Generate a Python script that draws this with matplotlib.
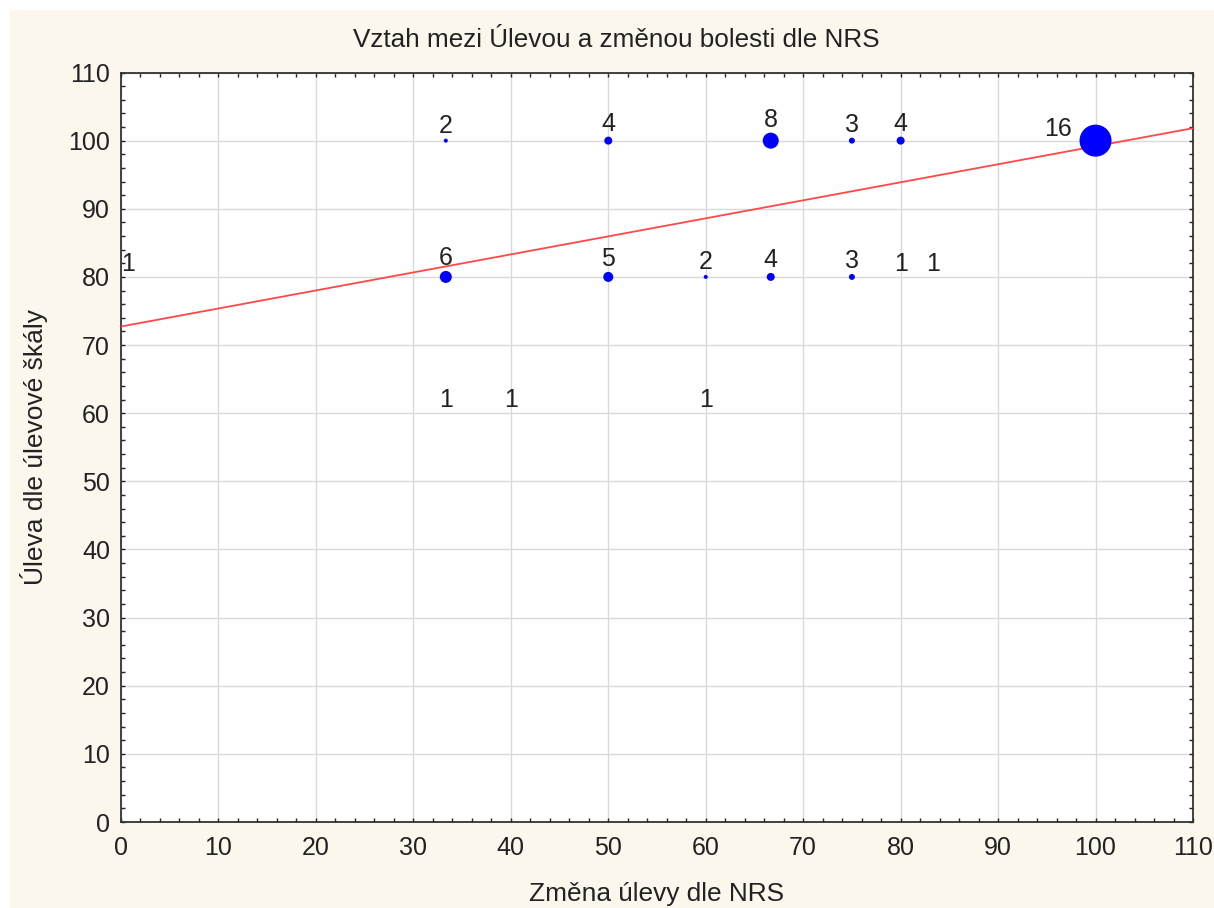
import matplotlib
matplotlib.use("Agg")
import matplotlib.pyplot as plt
from matplotlib.patches import Rectangle
from matplotlib.ticker import MultipleLocator
import numpy as np

plt.rcParams['font.family'] = ['Liberation Sans', 'DejaVu Sans']

# bubble data: change of relief (NRS) vs relief on scale, with counts
zmena = [0, 33.33, 50, 66.67, 75, 80, 100,
         33.33, 50, 60, 66.67, 75, 80, 83.33,
         33.33, 40, 60]
uleva = [80, 100, 100, 100, 100, 100, 100,
         80, 80, 80, 80, 80, 80, 80,
         60, 60, 60]
pocet = [1, 2, 4, 8, 3, 4, 16,
         6, 5, 2, 4, 3, 1, 1,
         1, 1, 1]

title = "Vztah mezi Úlevou a změnou bolesti dle NRS"
xlabel = "Změna úlevy dle NRS"
ylabel = "Úleva dle úlevové škály"

cream = '#fcf7ec'
ink = '#222222'

fig = plt.figure(figsize=(12.14, 9.08), dpi=100, facecolor='white')
fig.patches.append(Rectangle((10 / 1214, 0), 1, 1 - 10 / 908, transform=fig.transFigure,
                             facecolor=cream, edgecolor='none', zorder=-10))
ax = fig.add_axes([121 / 1214, 1 - 822 / 908, 1072 / 1214, 749.5 / 908])
ax.set_facecolor('white')

ax.set_xlim(0, 110)
ax.set_ylim(0, 110)
ax.xaxis.set_major_locator(MultipleLocator(10))
ax.yaxis.set_major_locator(MultipleLocator(10))
ax.xaxis.set_minor_locator(MultipleLocator(2))
ax.yaxis.set_minor_locator(MultipleLocator(2))
ax.grid(True, which='major', color='#d9d9d9', linewidth=1.0)
ax.set_axisbelow(True)
ax.tick_params(which='both', direction='in', top=True, right=True,
               length=3, width=1, color=ink)
ax.tick_params(axis='x', which='major', labelsize=18, pad=10, labelcolor=ink)
ax.tick_params(axis='y', which='major', labelsize=18, pad=8, labelcolor=ink)
for sp in ax.spines.values():
    sp.set_color('#333333')
    sp.set_linewidth(1.3)

# regression on the expanded (weighted) data
xs = np.repeat(zmena, pocet)
ys = np.repeat(uleva, pocet)
k, q = np.polyfit(xs, ys, 1)
lx = np.array([0, 110])
ax.plot(lx, k * lx + q, color='#ff4848', linewidth=1.3, zorder=3)

# bubbles: diameter grows with count, single cases get no marker
px2pt = 72 / fig.dpi
diam_pt = [2 * n * px2pt if n > 1 else 0 for n in pocet]
ax.scatter(zmena, uleva, s=[d ** 2 for d in diam_pt], color='#0000ff',
           linewidths=0, zorder=4, clip_on=False)

for x, y, n, d in zip(zmena, uleva, pocet, diam_pt):
    r = d / 2
    if d > 20 * px2pt:
        ax.annotate(str(n), (x, y), xytext=(-(r + 8 * px2pt), 5 * px2pt),
                    textcoords='offset points', ha='right', va='baseline',
                    fontsize=18, color=ink)
    else:
        # labels at the left edge stay inside the plot
        ha = 'left' if x <= ax.get_xlim()[0] else 'center'
        ax.annotate(str(n), (x, y), xytext=(0, r + 6 * px2pt),
                    textcoords='offset points', ha=ha, va='baseline',
                    fontsize=18, color=ink)

fig.text(0.508, 1 - 40 / 908, title, fontsize=18.8, color=ink,
         ha='center', va='center')
ax.set_xlabel(xlabel, fontsize=18.9, color=ink)
ax.xaxis.label.set_va('center')
ax.xaxis.set_label_coords(0.5, -0.096)
ax.set_ylabel(ylabel, fontsize=19, color=ink)
ax.yaxis.label.set_va('center')
ax.yaxis.set_label_coords(-0.081, 0.5)

fig.savefig('out.png', dpi=100, facecolor=fig.get_facecolor())
